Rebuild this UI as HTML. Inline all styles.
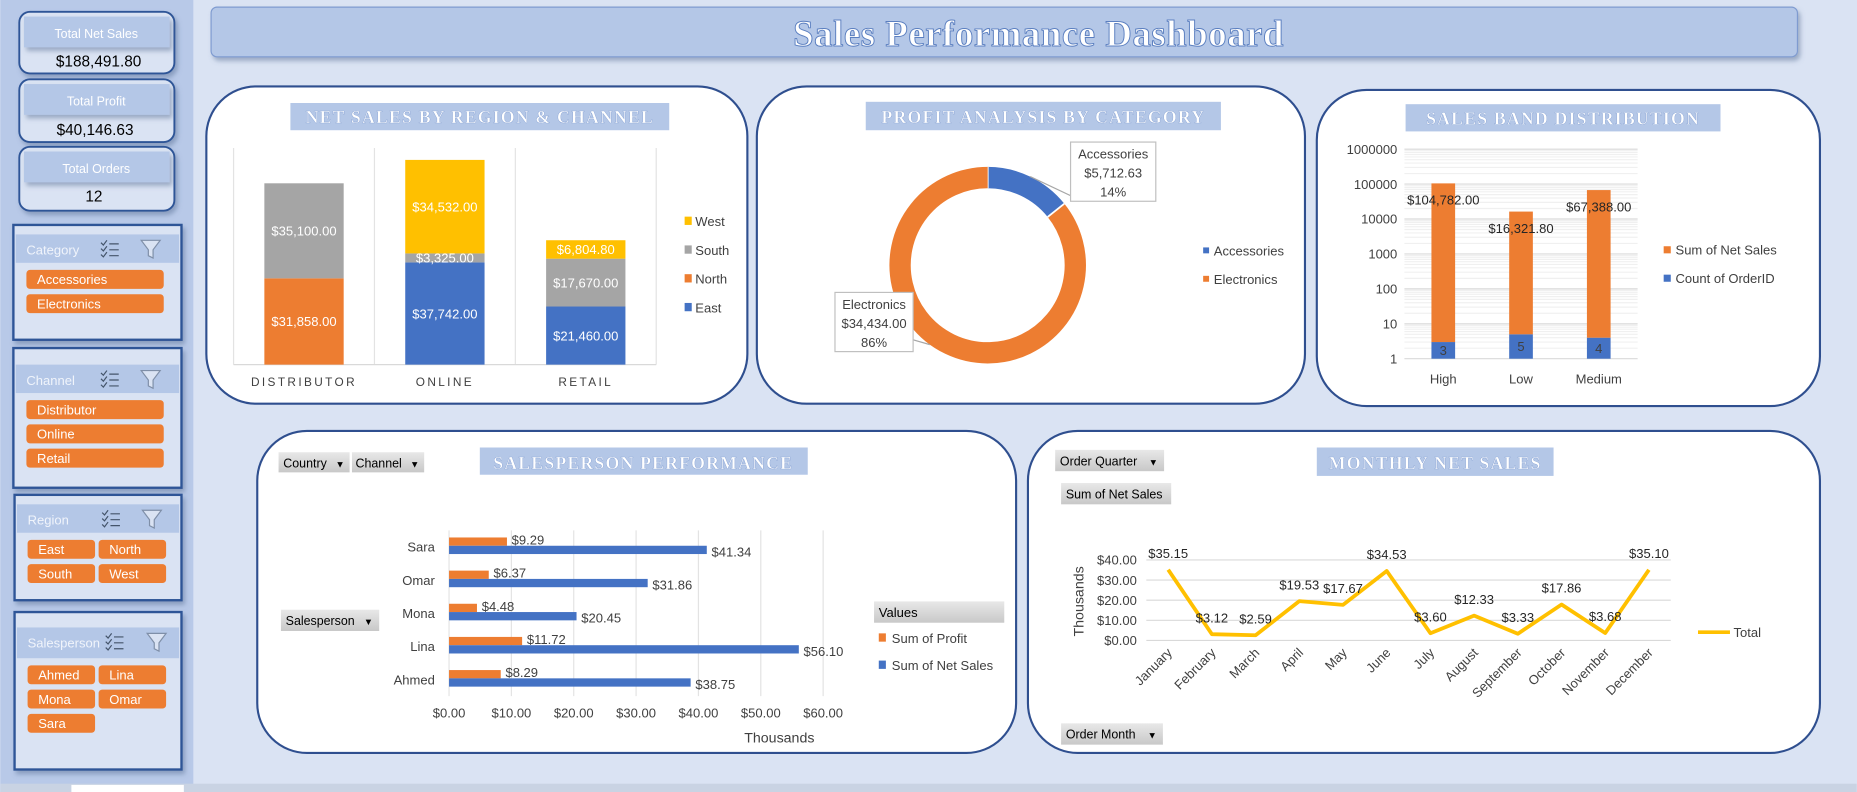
<!DOCTYPE html>
<html><head><meta charset="utf-8"><style>
html,body{margin:0;padding:0;width:1857px;height:792px;overflow:hidden;background:#dae3f3}
svg{display:block}
text{font-family:"Liberation Sans",sans-serif;font-size:11px;fill:#404040}
.ser{font-family:"Liberation Serif",serif;font-weight:bold}
.ct{font-family:"Liberation Serif",serif;font-weight:bold;font-size:15px;fill:#fff;letter-spacing:1px;stroke:#7f9bd0;stroke-width:0.3}
.btn{font-size:10.5px;fill:#000}
.w{fill:#fff}
</style></head><body>
<svg id="root" width="1857" height="792" viewBox="0 0 1568 669" xmlns="http://www.w3.org/2000/svg">
<defs>
<filter id="sh" x="-10%" y="-10%" width="130%" height="150%"><feDropShadow dx="2" dy="3" stdDeviation="2" flood-color="#5a6f96" flood-opacity="0.5"/></filter>
<linearGradient id="bg" x1="0" y1="0" x2="0" y2="1"><stop offset="0" stop-color="#e8e8e8"/><stop offset="1" stop-color="#c8c8c8"/></linearGradient>
</defs>
<rect x="0" y="0" width="1568" height="669" fill="#dae3f3"/>
<rect x="0" y="0" width="163" height="669" fill="#b8c9e8"/>
<rect x="0" y="662" width="1568" height="7" fill="#c9d3e3"/>
<rect x="60" y="663" width="95" height="6" fill="#fff"/>

<g>
<rect x="16" y="10" width="131" height="52" rx="9" fill="#dae3f3" stroke="#2f5597" stroke-width="1.6" filter="url(#sh)"/>
<rect x="20" y="14" width="123" height="26" fill="#b4c7e7" filter="url(#sh)"/>
<text x="81" y="32" text-anchor="middle" class="w" style="font-size:10.5px">Total Net Sales</text>
<text x="83" y="56" text-anchor="middle" style="font-size:13px;fill:#000">$188,491.80</text></g>
<g>
<rect x="16" y="67" width="131" height="53" rx="9" fill="#dae3f3" stroke="#2f5597" stroke-width="1.6" filter="url(#sh)"/>
<rect x="20" y="71" width="123" height="26" fill="#b4c7e7" filter="url(#sh)"/>
<text x="81" y="89" text-anchor="middle" class="w" style="font-size:10.5px">Total Profit</text>
<text x="80" y="114" text-anchor="middle" style="font-size:13px;fill:#000">$40,146.63</text></g>
<g>
<rect x="16" y="124" width="131" height="54" rx="9" fill="#dae3f3" stroke="#2f5597" stroke-width="1.6" filter="url(#sh)"/>
<rect x="20" y="128" width="123" height="26" fill="#b4c7e7" filter="url(#sh)"/>
<text x="81" y="146" text-anchor="middle" class="w" style="font-size:10.5px">Total Orders</text>
<text x="79" y="170" text-anchor="middle" style="font-size:13px;fill:#000">12</text></g>

<g id="slicers"></g>

<g>
<rect x="178" y="6" width="1340" height="42" rx="5" fill="#b4c7e7" stroke="#7f9bd0" stroke-width="1" filter="url(#sh)"/>
<text x="877" y="39" text-anchor="middle" class="ser" style="font-size:31px;fill:#fff;stroke:#5b7fc0;stroke-width:0.8;letter-spacing:0.5px">Sales Performance Dashboard</text></g>

<rect x="174" y="73" width="457" height="268" rx="42" fill="#fff" stroke="#2f4f8f" stroke-width="1.8"/>
<rect x="639" y="73" width="463" height="268" rx="42" fill="#fff" stroke="#2f4f8f" stroke-width="1.8"/>
<rect x="1112" y="76" width="425" height="267" rx="42" fill="#fff" stroke="#2f4f8f" stroke-width="1.8"/>
<rect x="217" y="364" width="641" height="272" rx="42" fill="#fff" stroke="#2f4f8f" stroke-width="1.8"/>
<rect x="868" y="364" width="669" height="272" rx="42" fill="#fff" stroke="#2f4f8f" stroke-width="1.8"/>

<g><rect x="245" y="87" width="320" height="23" fill="#b4c7e7"/><text x="405" y="104" text-anchor="middle" class="ct">NET SALES BY REGION &amp; CHANNEL</text></g>
<g><rect x="731" y="86" width="300" height="24" fill="#b4c7e7"/><text x="881" y="104" text-anchor="middle" class="ct">PROFIT ANALYSIS BY CATEGORY</text></g>
<g><rect x="1187" y="88" width="266" height="23" fill="#b4c7e7"/><text x="1320" y="105" text-anchor="middle" class="ct">SALES BAND DISTRIBUTION</text></g>
<g><rect x="405" y="378" width="277" height="23" fill="#b4c7e7"/><text x="543" y="396" text-anchor="middle" class="ct">SALESPERSON PERFORMANCE</text></g>
<g><rect x="1112" y="378" width="200" height="24" fill="#b4c7e7"/><text x="1212" y="396" text-anchor="middle" class="ct">MONTHLY NET SALES</text></g>

<g id="c1"></g><g id="c2"></g><g id="c3"></g><g id="c4"></g><g id="c5"></g>

<g><rect x="235" y="382" width="60" height="17" fill="url(#bg)"/><text x="239" y="395" class="btn">Country</text><text x="283" y="395" class="btn" style="font-size:8px">▼</text></g>
<g><rect x="297" y="382" width="61" height="17" fill="url(#bg)"/><text x="300" y="395" class="btn">Channel</text><text x="346" y="395" class="btn" style="font-size:8px">▼</text></g>
<g><rect x="237" y="515" width="83" height="18" fill="url(#bg)"/><text x="241" y="528" class="btn">Salesperson</text><text x="307" y="528" class="btn" style="font-size:8px">▼</text></g>
<g><rect x="891" y="380" width="92" height="18" fill="url(#bg)"/><text x="895" y="393" class="btn">Order Quarter</text><text x="970" y="393" class="btn" style="font-size:8px">▼</text></g>
<g><rect x="896" y="408" width="93" height="18" fill="url(#bg)"/><text x="900" y="421" class="btn">Sum of Net Sales</text></g>
<g><rect x="896" y="611" width="86" height="18" fill="url(#bg)"/><text x="900" y="624" class="btn">Order Month</text><text x="969" y="624" class="btn" style="font-size:8px">▼</text></g>
</svg>
<script>
const NS='http://www.w3.org/2000/svg';
function mk(p,tag,a,txt){const e=document.createElementNS(NS,tag);for(const k in a)e.setAttribute(k,a[k]);if(txt!==undefined)e.textContent=txt;p.appendChild(e);return e;}
const BLUE='#4472c4',ORANGE='#ed7d31',GRAY='#a5a5a5',GOLD='#ffc000';

const slicerTitles=['Category','Channel','Region','Salesperson'];
const slicerItems=[['Accessories','Electronics'],['Distributor','Online','Retail'],['East','North','South','West'],['Ahmed','Lina','Mona','Omar','Sara']];
const slicerBoxes=[[11,190,142,97,24],[11,294,142,118,24],[12,418,141,89,24],[12,517,141,133,26]];
const sl=document.getElementById('slicers');
slicerTitles.forEach((t,i)=>{
 const [x,y,w,h,hy]=slicerBoxes[i];
 const g=mk(sl,'g',{});
 
 
 mk(g,'rect',{x:x,y:y,width:w,height:h,fill:'#dae3f3',stroke:'#2f5597','stroke-width':2,filter:'url(#sh)'});
 const by=y+(i==3?13:i==1?14:8);
 mk(g,'rect',{x:x+2,y:by,width:w-4,height:hy,fill:'#b4c7e7'});
 mk(g,'text',{x:x+11,y:by+17,style:'fill:#f0f4fb;font-size:11px'},t);
 const ix=x+(i==3?77:74);
 const ic=mk(g,'g',{stroke:'#44546a','stroke-width':1,fill:'none'});
 
 
 for(let k=0;k<3;k++){mk(ic,'path',{d:`M${ix} ${by+7+k*5}l2 2l3 -4M${ix+7} ${by+8+k*5}h8`});}
 const fx=x+(i==3?112:108);
 const fi=mk(g,'path',{d:`M${fx} ${by+5}h16l-6 8v7l-4 -2v-5z`,fill:'#dae3f3',stroke:'#7f8fa8','stroke-width':1});
 
 
 const two=slicerItems[i].length>3;
 slicerItems[i].forEach((it,j)=>{
   let bx,bw,bty;
   if(two){bx=x+11+(j%2)*60;bw=57;bty=by+hy+6+Math.floor(j/2)*20.5;}
   else{bx=x+11;bw=116;bty=by+hy+6+j*20.5;}
   const b=mk(g,'g',{});
   
   
   mk(b,'rect',{x:bx,y:bty,width:bw,height:16,rx:3,fill:ORANGE});
   mk(b,'text',{x:bx+9,y:bty+12,style:'fill:#fff;font-size:11px'},it);
 });
});

const c1Cats=['DISTRIBUTOR','ONLINE','RETAIL'];
const c1Series=['East','North','South','West'];
const c1East=[0,37742,21460];
const c1North=[31858,0,0];
const c1South=[35100,3325,17670];
const c1West=[0,34532,6804.8];
const c1Max=80000;
(function(){
 const g=document.getElementById('c1');
 const L=197,R=554,T=125,B=308,bw=67;
 const y=v=>B-(v/c1Max)*(B-T);
 const step=(R-L)/c1Cats.length;
 for(let i=0;i<=c1Cats.length;i++)mk(g,'line',{x1:L+i*step,x2:L+i*step,y1:T,y2:B,stroke:'#e3e3e3'});
 mk(g,'line',{x1:L,x2:R,y1:B,y2:B,stroke:'#d9d9d9'});
 const data=[c1East,c1North,c1South,c1West],cols=[BLUE,ORANGE,GRAY,GOLD];
 c1Cats.forEach((c,i)=>{
  const cx=L+step*(i+0.5);let acc=0;
  data.forEach((s,k)=>{
   const v=s[i];if(!v)return;
   const r=mk(g,'rect',{x:cx-bw/2,y:y(acc+v),width:bw,height:y(acc)-y(acc+v),fill:cols[k]});
   
   
   mk(g,'text',{x:cx,y:(y(acc)+y(acc+v))/2+4,'text-anchor':'middle',style:'fill:#fff;font-size:11px'},'$'+v.toLocaleString('en-US',{minimumFractionDigits:2}));
   acc+=v;
  });
  mk(g,'text',{x:cx,y:326,'text-anchor':'middle',style:'font-size:10px;letter-spacing:2px;fill:#404040'},c);
 });
 [3,2,1,0].forEach((k,j)=>{
  const lg=mk(g,'g',{});
  
  
  mk(lg,'rect',{x:578,y:183+j*24.3,width:6,height:7,fill:cols[k]});
  mk(lg,'text',{x:587,y:191+j*24.3},c1Series[k]);
 });
})();

const c2Cats=['Accessories','Electronics'];
const c2Values=[5712.63,34434.00];
(function(){
 const g=document.getElementById('c2');
 const cx=834,cy=224,r=74,sw=18;
 const tot=c2Values.reduce((a,b)=>a+b,0);let a0=-Math.PI/2;
 const cols=[BLUE,ORANGE];const mids=[];
 c2Values.forEach((v,i)=>{
  const a1=a0+v/tot*2*Math.PI;
  const large=(a1-a0)>Math.PI?1:0;
  const p=mk(g,'path',{d:`M${cx+r*Math.cos(a0)} ${cy+r*Math.sin(a0)}A${r} ${r} 0 ${large} 1 ${cx+r*Math.cos(a1)} ${cy+r*Math.sin(a1)}`,fill:'none',stroke:cols[i],'stroke-width':sw});
  
  
  mk(g,'line',{x1:cx+(r-sw/2)*Math.cos(a0),y1:cy+(r-sw/2)*Math.sin(a0),x2:cx+(r+sw/2)*Math.cos(a0),y2:cy+(r+sw/2)*Math.sin(a0),stroke:'#fff','stroke-width':1.5});
  mids.push((a0+a1)/2);a0=a1;
 });
 const boxes=[[904,120,72,50],[705,247,66,50]];
 c2Values.forEach((v,i)=>{
  const [bx,by,bw,bh]=boxes[i];const m=mids[i];
  const ex=cx+(r+sw/2)*Math.cos(m),ey=cy+(r+sw/2)*Math.sin(m);
  if(i==0)mk(g,'line',{x1:ex,y1:ey,x2:bx+10,y2:by+bh,stroke:'#a6a6a6'});
  else mk(g,'path',{d:`M${bx+bw} ${by+bh-10}L${cx+(r+sw/2)*Math.cos(2.2)} ${cy+(r+sw/2)*Math.sin(2.2)}`,stroke:'#a6a6a6',fill:'none'});
  mk(g,'rect',{x:bx,y:by,width:bw,height:bh,fill:'#fff',stroke:'#bfbfbf'});
  mk(g,'text',{x:bx+bw/2,y:by+14,'text-anchor':'middle'},c2Cats[i]);
  mk(g,'text',{x:bx+bw/2,y:by+30,'text-anchor':'middle'},'$'+v.toLocaleString('en-US',{minimumFractionDigits:2}));
  mk(g,'text',{x:bx+bw/2,y:by+46,'text-anchor':'middle'},Math.round(v/tot*100)+'%');
  const lg=mk(g,'g',{});
  
  
  mk(lg,'rect',{x:1016,y:209+i*24,width:5,height:5,fill:cols[i]});
  mk(lg,'text',{x:1025,y:216+i*24},c2Cats[i]);
 });
})();

const c3Cats=['High','Low','Medium'];
const c3Counts=[3,5,4];
const c3Sales=[104782,16321.80,67388];
const c3Ticks=['1','10','100','1000','10000','100000','1000000'];
(function(){
 const g=document.getElementById('c3');
 const L=1186,R=1383,B=303,per=29.5;
 const y=v=>B-Math.log10(v)*per;
 for(let d=0;d<6;d++)for(let m=1;m<10;m++){const yy=y(m*Math.pow(10,d));mk(g,'line',{x1:L,x2:R,y1:yy,y2:yy,stroke:m==1?'#d9d9d9':'#f0f0f0'});}
 mk(g,'line',{x1:L,x2:R,y1:y(1e6),y2:y(1e6),stroke:'#d9d9d9'});
 c3Ticks.forEach(t=>mk(g,'text',{x:1180,y:y(+t)+4,'text-anchor':'end'},t));
 const step=(R-L)/3,bw=20;
 c3Cats.forEach((c,i)=>{
  const cx=L+step*(i+0.5);
  const b=mk(g,'rect',{x:cx-bw/2,y:y(c3Counts[i]),width:bw,height:B-y(c3Counts[i]),fill:BLUE});
  
  
  const top=c3Counts[i]+c3Sales[i];
  const o=mk(g,'rect',{x:cx-bw/2,y:y(top),width:bw,height:y(c3Counts[i])-y(top),fill:ORANGE});
  
  
  mk(g,'text',{x:cx,y:(B+y(c3Counts[i]))/2+4,'text-anchor':'middle'},String(c3Counts[i]));
  mk(g,'text',{x:cx,y:y(top)+18,'text-anchor':'middle',style:'fill:#262626'},'$'+c3Sales[i].toLocaleString('en-US',{minimumFractionDigits:2}));
  mk(g,'text',{x:cx,y:324,'text-anchor':'middle'},c);
 });
 [['Sum of Net Sales',ORANGE],['Count of OrderID',BLUE]].forEach((l,j)=>{
  const lg=mk(g,'g',{});
  
  
  mk(lg,'rect',{x:1405,y:208+j*24,width:6,height:6,fill:l[1]});
  mk(lg,'text',{x:1415,y:215+j*24},l[0]);
 });
})();

const c4Cats=['Sara','Omar','Mona','Lina','Ahmed'];
const c4Profit=[9.29,6.37,4.48,11.72,8.29];
const c4Sales=[41.34,31.86,20.45,56.10,38.75];
const c4Ticks=[0,10,20,30,40,50,60];
(function(){
 const g=document.getElementById('c4');
 const L=379,R=695,T=448,B=588;
 const x=v=>L+v/60*(R-L);
 c4Ticks.forEach(t=>{mk(g,'line',{x1:x(t),x2:x(t),y1:T,y2:B,stroke:'#e3e3e3'});mk(g,'text',{x:x(t),y:606,'text-anchor':'middle'},'$'+t.toFixed(2));});
 mk(g,'text',{x:658,y:627,'text-anchor':'middle',style:'font-size:12px'},'Thousands');
 const step=(B-T)/c4Cats.length;
 c4Cats.forEach((c,i)=>{
  const cy=T+step*(i+0.5);
  mk(g,'text',{x:367,y:cy+4,'text-anchor':'end'},c);
  const p=mk(g,'rect',{x:L,y:cy-8,width:x(c4Profit[i])-L,height:7,fill:ORANGE});
  
  
  const s=mk(g,'rect',{x:L,y:cy-1,width:x(c4Sales[i])-L,height:7,fill:BLUE});
  
  
  mk(g,'text',{x:x(c4Profit[i])+4,y:cy-2},'$'+c4Profit[i].toFixed(2));
  mk(g,'text',{x:x(c4Sales[i])+4,y:cy+8},'$'+c4Sales[i].toFixed(2));
 });
 const lg=mk(g,'g',{});
 
 
 mk(lg,'rect',{x:738,y:508,width:110,height:18,fill:'url(#bg)'});
 mk(lg,'text',{x:742,y:521,style:'fill:#000'},'Values');
 mk(lg,'rect',{x:742,y:535,width:6,height:7,fill:ORANGE});
 mk(lg,'text',{x:753,y:543},'Sum of Profit');
 mk(lg,'rect',{x:742,y:558,width:6,height:7,fill:BLUE});
 mk(lg,'text',{x:753,y:566},'Sum of Net Sales');
})();

const c5Months=['January','February','March','April','May','June','July','August','September','October','November','December'];
const c5Values=[35.15,3.12,2.59,19.53,17.67,34.53,3.60,12.33,3.33,17.86,3.68,35.10];
const c5Ticks=[0,10,20,30,40];
(function(){
 const g=document.getElementById('c5');
 const L=968,R=1411,B=541,T=473;
 const y=v=>B-v/40*(B-T);
 const step=(R-L)/12;
 const x=i=>L+step*(i+0.5);
 c5Ticks.forEach(t=>{mk(g,'line',{x1:L,x2:R,y1:y(t),y2:y(t),stroke:'#d9d9d9'});mk(g,'text',{x:960,y:y(t)+4,'text-anchor':'end'},'$'+t.toFixed(2));});
 mk(g,'text',{x:915,y:508,'text-anchor':'middle',transform:'rotate(-90 915 508)',style:'font-size:12px'},'Thousands');
 const pl=mk(g,'polyline',{points:c5Values.map((v,i)=>x(i)+','+y(v)).join(' '),fill:'none',stroke:GOLD,'stroke-width':3.2,'stroke-linejoin':'round'});
 
 
 c5Values.forEach((v,i)=>{
  mk(g,'text',{x:x(i),y:y(v)-10,'text-anchor':'middle',style:'fill:#262626'},'$'+v.toFixed(2));
 });
 c5Months.forEach((m,i)=>mk(g,'text',{x:x(i)+4,y:552,'text-anchor':'end',transform:`rotate(-45 ${x(i)+4} 552)`},m));
 const lg=mk(g,'g',{});
 
 
 mk(lg,'line',{x1:1434,x2:1461,y1:534,y2:534,stroke:GOLD,'stroke-width':3});
 mk(lg,'text',{x:1464,y:538},'Total');
})();
</script>
</body></html>
